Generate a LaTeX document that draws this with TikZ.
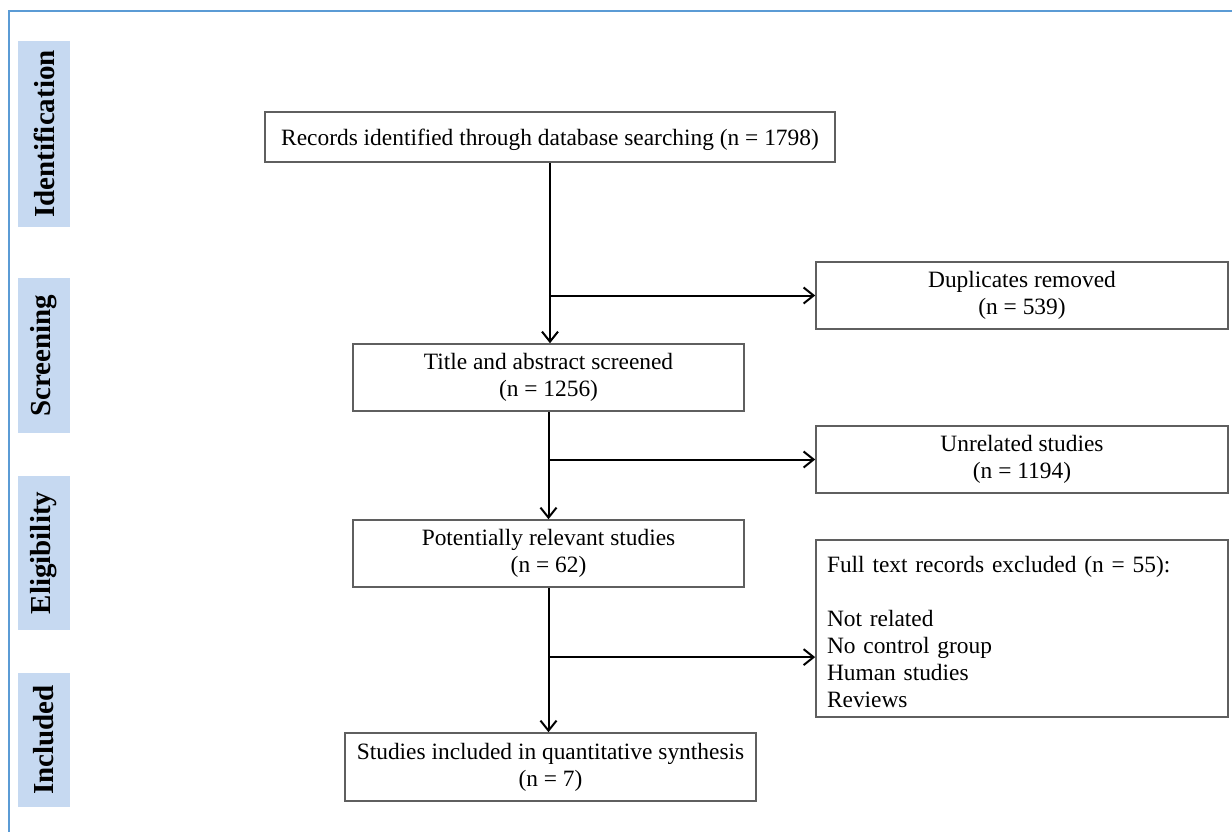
\documentclass[tikz,border=0pt]{standalone}
\usepackage{fontspec}
\setmainfont{Liberation Serif}
\usepackage{xcolor}
\usetikzlibrary{arrows.meta,calc,positioning}
\definecolor{stageblue}{RGB}{198,217,241}
\definecolor{frameblue}{RGB}{91,155,213}
\definecolor{boxgray}{RGB}{95,95,95}

\begin{document}
\begin{tikzpicture}[x=0.5pt,y=-0.5pt,
		box/.style={draw=boxgray, line width=0.8pt, fill=white, align=center, inner sep=0pt, font=\fontsize{11.7}{13.5}\selectfont, execute at begin node={\rule{0pt}{11.5pt}}},
		sidebox/.style={box, minimum width=206pt, minimum height=33.5pt},
		stage/.style={fill=stageblue, rotate=90, minimum height=26pt, inner sep=0pt, font=\fontsize{14.5}{16}\selectfont\bfseries},
		flow/.style={line width=1pt, -{Straight Barb[length=5pt,width=8pt]}}]
				\useasboundingbox (0,0) rectangle (1232,831);
				\draw [frameblue, line width=1pt] (9,845) -- (9,11) -- (1245,11);
				% stages
				\node [stage, minimum width=93pt] (ident) at (44,134) {Identification};
				\node [stage, minimum width=77.5pt] (screen) at (44,355.5) {Screening};
				\node [stage, minimum width=77pt] (elig) at (44,553) {Eligibility};
				\node [stage, minimum width=67pt] (incl) at (44,740) {Included};
				% main column
				\node [box, minimum width=285pt, minimum height=25pt] (records) at (550,137) {Records identified through database searching (n = 1798)};
				\node [box, minimum width=195.5pt, minimum height=33.5pt] (title) at (548.5,377.5) {Title and abstract screened\\(n = 1256)};
				\node [box, minimum width=195.5pt, minimum height=33.5pt] (potential) at (548.5,553.5) {Potentially relevant studies\\(n = 62)};
				\node [box, minimum width=205.5pt, minimum height=34pt] (included) at (550.5,767) {Studies included in quantitative synthesis\\(n = 7)};
				% side column
				\node [sidebox] (dup) at (1022,295.5) {Duplicates removed\\(n = 539)};
				\node [sidebox] (unrel) at (1022,459.5) {Unrelated studies\\(n = 1194)};
				\node [sidebox, minimum height=88.5pt, text width=195pt, align=left] (fulltext) at (1022,628.5) {Full text records excluded (n = 55):\\[13.5pt]Not related\\No control group\\Human studies\\Reviews};
				% arrows
				\draw [flow] (records.south) -- (records.south |- title.north);
				\draw [flow] (title.south) -- (title.south |- potential.north);
				\draw [flow] (potential.south) -- (potential.south |- included.north);
				\coordinate (b1) at (records.south |- dup.west);
				\coordinate (b2) at (title.south |- unrel.west);
				\coordinate (b3) at ($(potential.south)!0.48!(potential.south |- included.north)$);
				\draw [flow] (b1) -- (dup.west);
				\draw [flow] (b2) -- (unrel.west);
				\draw [flow] (b3) -- (b3 -| fulltext.west);
			\end{tikzpicture}
\end{document}
